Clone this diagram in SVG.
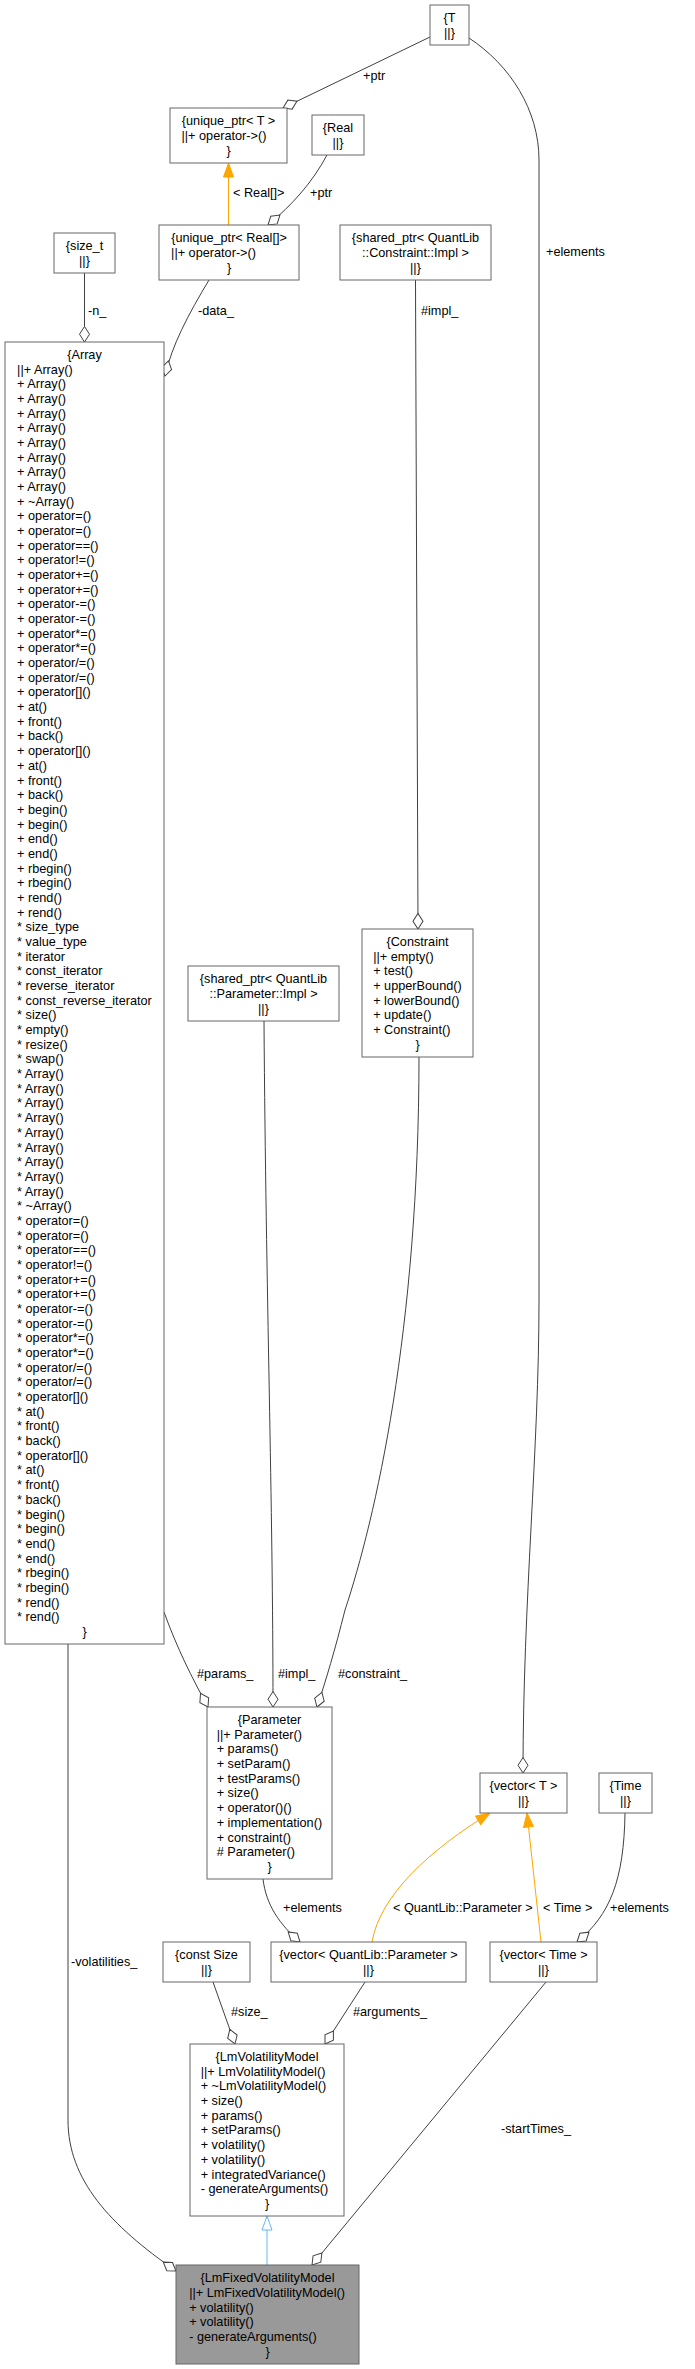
<svg xmlns="http://www.w3.org/2000/svg" width="695" height="2369" viewBox="0 0 695 2369">
<style>
text{font-family:"Liberation Sans",Arial,Helvetica,sans-serif;font-size:12.7px;fill:#000}
.c{text-anchor:middle}
.box{fill:#fff;stroke:#666;stroke-width:1}
.main{fill:#999;stroke:#666;stroke-width:1}
.e{fill:none;stroke:#404040;stroke-width:1}
.o{fill:none;stroke:#FFA500;stroke-width:1}
.b{fill:none;stroke:#63B8FF;stroke-width:1}
</style>
<defs>
<marker id="dia" viewBox="-17 -6 18 12" refX="0" refY="0" markerWidth="18" markerHeight="12" markerUnits="userSpaceOnUse" orient="auto"><path d="M0,0 L-7.75,-5 L-15.5,0 L-7.75,5 Z" fill="#fff" stroke="#404040" stroke-width="1"/></marker>
<marker id="ora" viewBox="-15 -6 16 12" refX="0" refY="0" markerWidth="16" markerHeight="12" markerUnits="userSpaceOnUse" orient="auto"><path d="M0,0 L-14,-5 L-14,5 Z" fill="#FFA500" stroke="#FFA500" stroke-width="1"/></marker>
<marker id="inh" viewBox="-15 -6 16 12" refX="0" refY="0" markerWidth="16" markerHeight="12" markerUnits="userSpaceOnUse" orient="auto"><path d="M0,0 L-14,-5 L-14,5 Z" fill="#fff" stroke="#63B8FF" stroke-width="1"/></marker>
</defs>
<g id="connectors">
<path class="e" d="M430,37 L283,108" marker-end="url(#dia)"/>
<text x="363" y="80.4">+ptr</text>
<path class="e" d="M469,38 C510,65 539,110 539,160 L539,1300 C539,1450 523,1600 523,1773" marker-end="url(#dia)"/>
<text x="546" y="256.4">+elements</text>
<path class="o" d="M228.5,225 L228.5,163" marker-end="url(#ora)"/>
<text x="233" y="197.4">&lt; Real[]&gt;</text>
<path class="e" d="M327,155 C312,183 292,205 268,225" marker-end="url(#dia)"/>
<text x="310" y="197.4">+ptr</text>
<path class="e" d="M84.5,273 L84.5,342" marker-end="url(#dia)"/>
<text x="88" y="315.4">-n_</text>
<path class="e" d="M209,280 C188,315 172,345 165,376" marker-end="url(#dia)"/>
<text x="198" y="315.4">-data_</text>
<path class="e" d="M415.5,280 L418,929" marker-end="url(#dia)"/>
<text x="421" y="315.4">#impl_</text>
<path class="e" d="M164,1612 C177,1648 192,1678 208,1707" marker-end="url(#dia)"/>
<text x="197" y="1678.4">#params_</text>
<path class="e" d="M264,1021 C266,1300 273,1500 273,1707" marker-end="url(#dia)"/>
<text x="278" y="1678.4">#impl_</text>
<path class="e" d="M419,1057 C419,1330 375,1520 345,1610 C335,1650 326,1680 317,1707" marker-end="url(#dia)"/>
<text x="338" y="1678.4">#constraint_</text>
<path class="e" d="M263,1879 C266,1905 280,1925 300,1942" marker-end="url(#dia)"/>
<text x="283" y="1912.4">+elements</text>
<path class="o" d="M372,1942 C380,1895 430,1850 490,1813" marker-end="url(#ora)"/>
<text x="393" y="1912.4">&lt; QuantLib::Parameter &gt;</text>
<path class="o" d="M541,1942 L527,1813" marker-end="url(#ora)"/>
<text x="543" y="1912.4">&lt; Time &gt;</text>
<path class="e" d="M625,1813 C624,1880 610,1915 577,1942" marker-end="url(#dia)"/>
<text x="610" y="1912.4">+elements</text>
<path class="e" d="M68,1644 L68,2120 C68,2180 110,2225 176,2271" marker-end="url(#dia)"/>
<text x="71" y="1966.4">-volatilities_</text>
<path class="e" d="M213,1982 L235,2044" marker-end="url(#dia)"/>
<text x="231" y="2016.4">#size_</text>
<path class="e" d="M365,1982 L325,2044" marker-end="url(#dia)"/>
<text x="353" y="2016.4">#arguments_</text>
<path class="e" d="M546,1982 L312,2265" marker-end="url(#dia)"/>
<text x="501" y="2133.4">-startTimes_</text>
<path class="b" d="M267,2265 L267,2216" marker-end="url(#inh)"/>
</g>
<g id="node-T">
<rect class="box" x="430" y="5" width="39" height="40"/>
<text class="c" x="449.5" y="22.1">{T</text>
<text class="c" x="449.5" y="36.8">||}</text>
</g>
<g id="node-unique_ptr_T">
<rect class="box" x="170" y="108" width="117" height="55"/>
<text class="c" x="228.5" y="125.2">{unique_ptr&lt; T &gt;</text>
<text x="181.5" y="139.9">||+ operator-&gt;()</text>
<text class="c" x="228.5" y="154.6">}</text>
</g>
<g id="node-Real">
<rect class="box" x="312" y="115" width="52" height="40"/>
<text class="c" x="338" y="132.1">{Real</text>
<text class="c" x="338" y="146.8">||}</text>
</g>
<g id="node-unique_ptr_Real">
<rect class="box" x="159" y="225" width="140" height="55"/>
<text class="c" x="229" y="242.2">{unique_ptr&lt; Real[]&gt;</text>
<text x="171.1" y="256.9">||+ operator-&gt;()</text>
<text class="c" x="229" y="271.6">}</text>
</g>
<g id="node-size_t">
<rect class="box" x="54" y="233" width="61" height="40"/>
<text class="c" x="84.5" y="250.1">{size_t</text>
<text class="c" x="84.5" y="264.8">||}</text>
</g>
<g id="node-shared_ptr_ConstraintImpl">
<rect class="box" x="340" y="225" width="151" height="55"/>
<text class="c" x="415.5" y="242.2">{shared_ptr&lt; QuantLib</text>
<text class="c" x="415.5" y="256.9">::Constraint::Impl &gt;</text>
<text class="c" x="415.5" y="271.6">||}</text>
</g>
<g id="node-Array">
<rect class="box" x="5" y="342" width="159" height="1302"/>
<text class="c" x="84.5" y="358.8">{Array</text>
<text x="17.1" y="373.5"><tspan x="17.1">||+ Array()</tspan><tspan x="17.1" dy="14.68">+ Array()</tspan><tspan x="17.1" dy="14.68">+ Array()</tspan><tspan x="17.1" dy="14.68">+ Array()</tspan><tspan x="17.1" dy="14.68">+ Array()</tspan><tspan x="17.1" dy="14.68">+ Array()</tspan><tspan x="17.1" dy="14.68">+ Array()</tspan><tspan x="17.1" dy="14.68">+ Array()</tspan><tspan x="17.1" dy="14.68">+ Array()</tspan><tspan x="17.1" dy="14.68">+ ~Array()</tspan><tspan x="17.1" dy="14.68">+ operator=()</tspan><tspan x="17.1" dy="14.68">+ operator=()</tspan><tspan x="17.1" dy="14.68">+ operator==()</tspan><tspan x="17.1" dy="14.68">+ operator!=()</tspan><tspan x="17.1" dy="14.68">+ operator+=()</tspan><tspan x="17.1" dy="14.68">+ operator+=()</tspan><tspan x="17.1" dy="14.68">+ operator-=()</tspan><tspan x="17.1" dy="14.68">+ operator-=()</tspan><tspan x="17.1" dy="14.68">+ operator*=()</tspan><tspan x="17.1" dy="14.68">+ operator*=()</tspan><tspan x="17.1" dy="14.68">+ operator/=()</tspan><tspan x="17.1" dy="14.68">+ operator/=()</tspan><tspan x="17.1" dy="14.68">+ operator[]()</tspan><tspan x="17.1" dy="14.68">+ at()</tspan><tspan x="17.1" dy="14.68">+ front()</tspan><tspan x="17.1" dy="14.68">+ back()</tspan><tspan x="17.1" dy="14.68">+ operator[]()</tspan><tspan x="17.1" dy="14.68">+ at()</tspan><tspan x="17.1" dy="14.68">+ front()</tspan><tspan x="17.1" dy="14.68">+ back()</tspan><tspan x="17.1" dy="14.68">+ begin()</tspan><tspan x="17.1" dy="14.68">+ begin()</tspan><tspan x="17.1" dy="14.68">+ end()</tspan><tspan x="17.1" dy="14.68">+ end()</tspan><tspan x="17.1" dy="14.68">+ rbegin()</tspan><tspan x="17.1" dy="14.68">+ rbegin()</tspan><tspan x="17.1" dy="14.68">+ rend()</tspan><tspan x="17.1" dy="14.68">+ rend()</tspan><tspan x="17.1" dy="14.68">* size_type</tspan><tspan x="17.1" dy="14.68">* value_type</tspan><tspan x="17.1" dy="14.68">* iterator</tspan><tspan x="17.1" dy="14.68">* const_iterator</tspan><tspan x="17.1" dy="14.68">* reverse_iterator</tspan><tspan x="17.1" dy="14.68">* const_reverse_iterator</tspan><tspan x="17.1" dy="14.68">* size()</tspan><tspan x="17.1" dy="14.68">* empty()</tspan><tspan x="17.1" dy="14.68">* resize()</tspan><tspan x="17.1" dy="14.68">* swap()</tspan><tspan x="17.1" dy="14.68">* Array()</tspan><tspan x="17.1" dy="14.68">* Array()</tspan><tspan x="17.1" dy="14.68">* Array()</tspan><tspan x="17.1" dy="14.68">* Array()</tspan><tspan x="17.1" dy="14.68">* Array()</tspan><tspan x="17.1" dy="14.68">* Array()</tspan><tspan x="17.1" dy="14.68">* Array()</tspan><tspan x="17.1" dy="14.68">* Array()</tspan><tspan x="17.1" dy="14.68">* Array()</tspan><tspan x="17.1" dy="14.68">* ~Array()</tspan><tspan x="17.1" dy="14.68">* operator=()</tspan><tspan x="17.1" dy="14.68">* operator=()</tspan><tspan x="17.1" dy="14.68">* operator==()</tspan><tspan x="17.1" dy="14.68">* operator!=()</tspan><tspan x="17.1" dy="14.68">* operator+=()</tspan><tspan x="17.1" dy="14.68">* operator+=()</tspan><tspan x="17.1" dy="14.68">* operator-=()</tspan><tspan x="17.1" dy="14.68">* operator-=()</tspan><tspan x="17.1" dy="14.68">* operator*=()</tspan><tspan x="17.1" dy="14.68">* operator*=()</tspan><tspan x="17.1" dy="14.68">* operator/=()</tspan><tspan x="17.1" dy="14.68">* operator/=()</tspan><tspan x="17.1" dy="14.68">* operator[]()</tspan><tspan x="17.1" dy="14.68">* at()</tspan><tspan x="17.1" dy="14.68">* front()</tspan><tspan x="17.1" dy="14.68">* back()</tspan><tspan x="17.1" dy="14.68">* operator[]()</tspan><tspan x="17.1" dy="14.68">* at()</tspan><tspan x="17.1" dy="14.68">* front()</tspan><tspan x="17.1" dy="14.68">* back()</tspan><tspan x="17.1" dy="14.68">* begin()</tspan><tspan x="17.1" dy="14.68">* begin()</tspan><tspan x="17.1" dy="14.68">* end()</tspan><tspan x="17.1" dy="14.68">* end()</tspan><tspan x="17.1" dy="14.68">* rbegin()</tspan><tspan x="17.1" dy="14.68">* rbegin()</tspan><tspan x="17.1" dy="14.68">* rend()</tspan><tspan x="17.1" dy="14.68">* rend()</tspan></text>
<text class="c" x="84.5" y="1636.1">}</text>
</g>
<g id="node-shared_ptr_ParameterImpl">
<rect class="box" x="188" y="966" width="151" height="55"/>
<text class="c" x="263.5" y="983.2">{shared_ptr&lt; QuantLib</text>
<text class="c" x="263.5" y="997.9">::Parameter::Impl &gt;</text>
<text class="c" x="263.5" y="1012.6">||}</text>
</g>
<g id="node-Constraint">
<rect class="box" x="362" y="929" width="111" height="128"/>
<text class="c" x="417.5" y="945.95">{Constraint</text>
<text x="373.2" y="960.65"><tspan x="373.2">||+ empty()</tspan><tspan x="373.2" dy="14.7">+ test()</tspan><tspan x="373.2" dy="14.7">+ upperBound()</tspan><tspan x="373.2" dy="14.7">+ lowerBound()</tspan><tspan x="373.2" dy="14.7">+ update()</tspan><tspan x="373.2" dy="14.7">+ Constraint()</tspan></text>
<text class="c" x="417.5" y="1048.85">}</text>
</g>
<g id="node-Parameter">
<rect class="box" x="207" y="1707" width="125" height="172"/>
<text class="c" x="269.5" y="1723.9">{Parameter</text>
<text x="216.7" y="1738.6"><tspan x="216.7">||+ Parameter()</tspan><tspan x="216.7" dy="14.7">+ params()</tspan><tspan x="216.7" dy="14.7">+ setParam()</tspan><tspan x="216.7" dy="14.7">+ testParams()</tspan><tspan x="216.7" dy="14.7">+ size()</tspan><tspan x="216.7" dy="14.7">+ operator()()</tspan><tspan x="216.7" dy="14.7">+ implementation()</tspan><tspan x="216.7" dy="14.7">+ constraint()</tspan><tspan x="216.7" dy="14.7"># Parameter()</tspan></text>
<text class="c" x="269.5" y="1870.9">}</text>
</g>
<g id="node-vector_T">
<rect class="box" x="480" y="1773" width="87" height="40"/>
<text class="c" x="523.5" y="1790.1">{vector&lt; T &gt;</text>
<text class="c" x="523.5" y="1804.8">||}</text>
</g>
<g id="node-Time">
<rect class="box" x="599" y="1773" width="53" height="40"/>
<text class="c" x="625.5" y="1790.1">{Time</text>
<text class="c" x="625.5" y="1804.8">||}</text>
</g>
<g id="node-const_Size">
<rect class="box" x="163" y="1942" width="87" height="40"/>
<text class="c" x="206.5" y="1959.1">{const Size</text>
<text class="c" x="206.5" y="1973.8">||}</text>
</g>
<g id="node-vector_Parameter">
<rect class="box" x="271" y="1942" width="195" height="40"/>
<text class="c" x="368.5" y="1959.1">{vector&lt; QuantLib::Parameter &gt;</text>
<text class="c" x="368.5" y="1973.8">||}</text>
</g>
<g id="node-vector_Time">
<rect class="box" x="490" y="1942" width="107" height="40"/>
<text class="c" x="543.5" y="1959.1">{vector&lt; Time &gt;</text>
<text class="c" x="543.5" y="1973.8">||}</text>
</g>
<g id="node-LmVolatilityModel">
<rect class="box" x="190" y="2044" width="154" height="172"/>
<text class="c" x="267" y="2060.9">{LmVolatilityModel</text>
<text x="200.7" y="2075.6"><tspan x="200.7">||+ LmVolatilityModel()</tspan><tspan x="200.7" dy="14.7">+ ~LmVolatilityModel()</tspan><tspan x="200.7" dy="14.7">+ size()</tspan><tspan x="200.7" dy="14.7">+ params()</tspan><tspan x="200.7" dy="14.7">+ setParams()</tspan><tspan x="200.7" dy="14.7">+ volatility()</tspan><tspan x="200.7" dy="14.7">+ volatility()</tspan><tspan x="200.7" dy="14.7">+ integratedVariance()</tspan><tspan x="200.7" dy="14.7">- generateArguments()</tspan></text>
<text class="c" x="267" y="2207.9">}</text>
</g>
<g id="node-LmFixedVolatilityModel">
<rect class="main" x="176" y="2265" width="183" height="99"/>
<text class="c" x="267.5" y="2282.15">{LmFixedVolatilityModel</text>
<text x="189.2" y="2296.85"><tspan x="189.2">||+ LmFixedVolatilityModel()</tspan><tspan x="189.2" dy="14.7">+ volatility()</tspan><tspan x="189.2" dy="14.7">+ volatility()</tspan><tspan x="189.2" dy="14.7">- generateArguments()</tspan></text>
<text class="c" x="267.5" y="2355.65">}</text>
</g>
</svg>
